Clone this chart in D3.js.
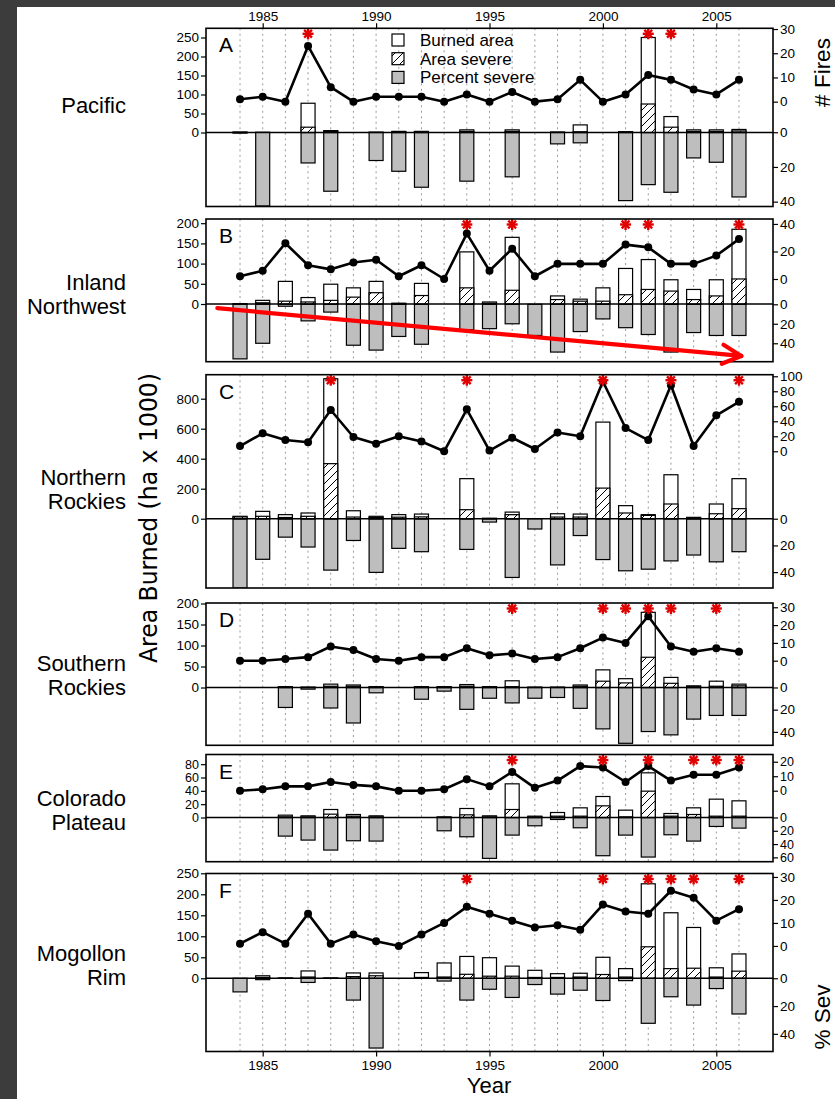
<!DOCTYPE html>
<html>
<head>
<meta charset="utf-8">
<script src="https://cdn.jsdelivr.net/npm/d3@7"></script>
<style>
  html, body { margin: 0; padding: 0; background: #fff; }
  svg { display: block; }
  text { font-family: "Liberation Sans", Arial, sans-serif; fill: #000; }
</style>
</head>
<body>
<svg id="chart" width="835" height="1099"></svg>
<script>
// ---- data ----
const years = [1984, 1985, 1986, 1987, 1988, 1989, 1990, 1991, 1992, 1993, 1994, 1995,
  1996, 1997, 1998, 1999, 2000, 2001, 2002, 2003, 2004, 2005, 2006];
const yearTicks = [1985, 1990, 1995, 2000, 2005];

// area burned (ha x 1000), area severe (ha x 1000), percent severe, number of fires
const pacificArea   = [1, 0, 0, 77, 5, 0, 0.5, 3, 3, 0, 7, 0, 7, 0, 1, 20, 0, 2, 250, 42, 7, 7, 8];
const pacificSevere = [0, 0, 0, 14, 3, 0, 0, 1, 2, 0, 3, 0, 3, 0, 0, 2, 0, 1, 75, 14, 3, 3, 4];
const pacificPct    = [0.5, 42.5, 0, 17.7, 34, 0, 16.3, 22.5, 31.7, 0, 28.2, 0, 25.7, 0, 6.7, 6.1, 0, 39.4, 30.2, 34.6, 14.8, 17.3, 37.3];
const pacificFires  = [1, 2, 0, 23, 6, 0, 2, 2, 2, 0, 3, 0, 4, 0, 1, 9, 0, 3, 11, 9, 5, 3, 9];
const pacificStars  = [1987, 2002, 2003];

const inlandArea   = [1, 9, 56, 16, 49, 40, 56, 2, 51, 0, 129, 5, 165, 0, 20, 12, 40, 88, 110, 60, 36, 60, 185];
const inlandSevere = [0, 3, 7, 5, 9, 17, 28, 1, 21, 0, 40, 2, 34, 0, 11, 7, 7, 23, 36, 32, 11, 20, 62];
const inlandPct    = [56, 40, 2, 17, 8, 42, 47, 33, 41, 0, 26, 25, 20, 32, 49, 28, 15, 24, 31, 49, 29, 32, 32];
const inlandFires  = [2, 6, 26, 10, 7, 12, 14, 2, 10, 0, 33, 6, 22, 2, 11, 11, 11, 25, 23, 11, 11, 17, 29];
const inlandStars  = [1994, 1996, 2001, 2002, 2006];

const northArea   = [16, 49, 27, 38, 933, 53, 16, 27, 31, 0, 267, 3, 44, 0, 33, 31, 644, 87, 27, 293, 9, 98, 267];
const northSevere = [12, 16, 8, 16, 367, 11, 8, 10, 12, 0, 60, 1, 27, 0, 11, 11, 204, 38, 22, 98, 5, 33, 67];
const northPct    = [52, 30.4, 13.8, 21.2, 38.5, 16.3, 40.2, 22.2, 24.7, 0, 23, 2.5, 44, 7.7, 34.6, 12.6, 30.6, 39, 37.8, 31.6, 27.2, 32.3, 24.7];
const northFires  = [7, 24, 15, 12, 55, 19, 10, 20, 13, 0, 56, 1, 18, 3, 25, 20, 93, 31, 15, 88, 7, 48, 66];
const northStars  = [1988, 1994, 2000, 2003, 2006];

const southArea   = [0, 0, 2, 1, 8, 6, 2, 0, 2, 2, 7, 2, 16, 1, 1, 6, 42, 21, 179, 24, 4, 15, 8];
const southSevere = [0, 0, 1, 0, 3, 3, 1, 0, 1, 1, 3, 1, 2, 0, 0, 3, 15, 11, 72, 10, 2, 3, 4];
const southPct    = [0, 0, 18, 1.5, 18.5, 32, 4.8, 0, 10.6, 3.3, 19.7, 9.7, 13.9, 9.7, 9, 18.8, 37.3, 50.3, 39.7, 42.7, 28.5, 25.2, 25.2];
const southFires  = [0, 0, 1, 2, 8, 6, 1, 0, 2, 2, 7, 3, 4, 1, 2, 7, 13, 10, 25, 8, 5, 7, 5];
const southStars  = [1996, 2000, 2001, 2002, 2003, 2005];

const coloradoArea   = [0, 0, 3.5, 2.5, 12, 4.5, 2.5, 0, 0, 1, 13.5, 2.5, 50.5, 2, 7.5, 14.5, 31.5, 11, 67, 6, 14.5, 27.5, 25];
const coloradoSevere = [0, 0, 1, 1, 5, 2, 1, 0, 0, 0, 4, 1, 12, 1, 2, 2, 17.5, 1, 39.5, 2, 4.5, 2, 2];
const coloradoPct    = [0, 0, 28, 34, 49, 35, 35.5, 0, 0, 20, 29, 61.5, 26.5, 12.5, 3, 15.5, 57.5, 26.5, 59.5, 26, 35.5, 13.5, 16];
const coloradoFires  = [0, 1, 3, 3, 6, 4, 3, 0, 0, 1, 8, 3, 13, 2, 7, 17, 16, 6, 17, 7, 11, 11, 16];
const coloradoStars  = [1996, 2000, 2002, 2004, 2005, 2006];

const mogollonArea   = [0, 6, 1, 17.5, 1, 12.7, 12.7, 0, 13.5, 36.5, 52, 49, 29, 19, 11, 12, 50, 23, 225, 156, 121, 25, 58];
const mogollonSevere = [0, 2, 0, 3, 0, 4, 6, 0, 2, 3, 9.5, 5, 5, 2, 2, 3, 9, 3, 75, 23, 24, 3, 17];
const mogollonPct    = [9.8, 1, 0, 3, 0, 15.7, 50.2, 0, 0, 2, 15.7, 7.9, 13.8, 4.5, 11.4, 8.6, 16, 1.7, 32.4, 13.3, 19.3, 7.4, 25.7];
const mogollonFires  = [1, 6, 1, 14, 1, 5, 2, 0, 5, 10, 17, 14, 11, 8, 9, 7, 18, 15, 14, 24, 21, 11, 16];
const mogollonStars  = [1994, 2000, 2002, 2003, 2004, 2006];

// red trend arrow drawn on panel B, in (year, percent severe) units
const arrowFrom = [1983.0, 4];
const arrowTo = [2006.1, 53];

const legendLabels = ["Burned area", "Area severe", "Percent severe"];

// ---- layout ----
const boxLeft = 206, boxRight = 773;
const barW = 14;

const panels = [
  { letter: "A", name: ["Pacific"], nameY: 105,
    area: pacificArea, severe: pacificSevere, pct: pacificPct, fires: pacificFires, stars: pacificStars,
    top: 28.3, bottom: 206.5, areaDom: [-194.7, 274.2], fireDom: [-43.3, 30.3], pctDom: [-59.9, 42.8],
    areaTicks: [0, 50, 100, 150, 200, 250], fireTicks: [0, 10, 20, 30], pctTicks: [0, 20, 40] },
  { letter: "B", name: ["Inland", "Northwest"], nameY: 294,
    area: inlandArea, severe: inlandSevere, pct: inlandPct, fires: inlandFires, stars: inlandStars,
    top: 219, bottom: 361.7, areaDom: [-142.8, 210.4], fireDom: [-60.1, 43.6], pctDom: [-87.5, 58.9],
    areaTicks: [0, 50, 100, 150, 200], fireTicks: [0, 20, 40], pctTicks: [0, 20, 40] },
  { letter: "C", name: ["Northern", "Rockies"], nameY: 489,
    area: northArea, severe: northSevere, pct: northPct, fires: northFires, stars: northStars,
    top: 374.7, bottom: 588, areaDom: [-462, 960], fireDom: [-182.3, 102.1], pctDom: [-107.9, 51.9],
    areaTicks: [0, 200, 400, 600, 800], fireTicks: [0, 20, 40, 60, 80, 100], pctTicks: [0, 20, 40] },
  { letter: "D", name: ["Southern", "Rockies"], nameY: 675,
    area: southArea, severe: southSevere, pct: southPct, fires: southFires, stars: southStars,
    top: 603, bottom: 745.3, areaDom: [-137.6, 201.2], fireDom: [-47.5, 32.4], pctDom: [-76.1, 52.1],
    areaTicks: [0, 50, 100, 150, 200], fireTicks: [0, 10, 20, 30], pctTicks: [0, 20, 40] },
  { letter: "E", name: ["Colorado", "Plateau"], nameY: 810,
    area: coloradoArea, severe: coloradoSevere, pct: coloradoPct, fires: coloradoFires, stars: coloradoStars,
    top: 754.5, bottom: 861.7, areaDom: [-66.3, 94.5], fireDom: [-49.0, 25.0], pctDom: [-94.7, 66.5],
    areaTicks: [0, 20, 40, 60, 80], fireTicks: [0, 10, 20], pctTicks: [0, 20, 40, 60] },
  { letter: "F", name: ["Mogollon", "Rim"], nameY: 965,
    area: mogollonArea, severe: mogollonSevere, pct: mogollonPct, fires: mogollonFires, stars: mogollonStars,
    top: 873.5, bottom: 1051.5, areaDom: [-174.3, 249.5], fireDom: [-45.9, 31.5], pctDom: [-75.4, 52.7],
    areaTicks: [0, 50, 100, 150, 200, 250], fireTicks: [0, 10, 20, 30], pctTicks: [0, 20, 40] }
];

const svg = d3.select("#chart");

// dark frame of the screenshot
svg.append("rect").attr("x", 0).attr("y", 0).attr("width", 835).attr("height", 7).attr("fill", "#3c3c3c");
svg.append("rect").attr("x", 0).attr("y", 0).attr("width", 17).attr("height", 1099).attr("fill", "#3c3c3c");

const defs = svg.append("defs");
defs.append("pattern")
    .attr("id", "hatch")
    .attr("patternUnits", "userSpaceOnUse")
    .attr("width", 8).attr("height", 8)
  .call(p => p.append("rect").attr("width", 8).attr("height", 8).attr("fill", "#fff"))
  .append("path")
    .attr("d", "M-2,2 L2,-2 M0,8 L8,0 M6,10 L10,6")
    .attr("stroke", "#000").attr("stroke-width", 1);

const x = d3.scaleLinear().domain([1982.5, 2007.5]).range([boxLeft, boxRight]);

panels.forEach((p, pi) => {
  const yA = d3.scaleLinear().domain(p.areaDom).range([p.bottom, p.top]);
  const yF = d3.scaleLinear().domain(p.fireDom).range([p.bottom, p.top]);
  const yP = d3.scaleLinear().domain(p.pctDom).range([p.top, p.bottom]);
  const rows = years.map((yr, i) => ({ yr, area: p.area[i], sev: p.severe[i], pct: p.pct[i], fires: p.fires[i] }));

  const g = svg.append("g");
  defs.append("clipPath").attr("id", "clip" + pi)
    .append("rect").attr("x", boxLeft).attr("y", p.top)
    .attr("width", boxRight - boxLeft).attr("height", p.bottom - p.top);
  const plot = g.append("g").attr("clip-path", `url(#clip${pi})`);

  // dotted year grid
  plot.selectAll(".grid").data(years).join("line")
      .attr("x1", d => x(d)).attr("x2", d => x(d))
      .attr("y1", p.top).attr("y2", p.bottom)
      .attr("stroke", "#9a9a9a").attr("stroke-width", 1)
      .attr("stroke-dasharray", "2,3.5");

  // percent severe (downward, grey)
  plot.selectAll(".pct").data(rows.filter(d => d.pct > 0)).join("rect")
      .attr("x", d => x(d.yr) - barW / 2).attr("width", barW)
      .attr("y", yP(0)).attr("height", d => yP(d.pct) - yP(0))
      .attr("fill", "#bebebe").attr("stroke", "#000").attr("stroke-width", 1.2);

  // burned area (white)
  plot.selectAll(".area").data(rows.filter(d => d.area > 0)).join("rect")
      .attr("x", d => x(d.yr) - barW / 2).attr("width", barW)
      .attr("y", d => yA(d.area)).attr("height", d => yA(0) - yA(d.area))
      .attr("fill", "#fff").attr("stroke", "#000").attr("stroke-width", 1.2);

  // area severe (hatched)
  plot.selectAll(".sev").data(rows.filter(d => d.sev > 0)).join("rect")
      .attr("x", d => x(d.yr) - barW / 2).attr("width", barW)
      .attr("y", d => yA(d.sev)).attr("height", d => yA(0) - yA(d.sev))
      .attr("fill", "url(#hatch)").attr("stroke", "#000").attr("stroke-width", 1.2);

  // zero line
  g.append("line")
      .attr("x1", boxLeft).attr("x2", boxRight)
      .attr("y1", yA(0)).attr("y2", yA(0))
      .attr("stroke", "#000").attr("stroke-width", 1.6);

  // number of fires
  g.append("path").datum(rows)
      .attr("d", d3.line().x(d => x(d.yr)).y(d => yF(d.fires)))
      .attr("fill", "none").attr("stroke", "#000").attr("stroke-width", 2.6)
      .attr("stroke-linejoin", "round");
  g.selectAll(".pt").data(rows).join("circle")
      .attr("cx", d => x(d.yr)).attr("cy", d => yF(d.fires)).attr("r", 4)
      .attr("fill", "#000");

  // red asterisks
  const star = g.selectAll(".star").data(p.stars).join("g")
      .attr("transform", d => `translate(${x(d)},${p.top + 5.5})`);
  [0, 45, 90, 135].forEach(a => {
    star.append("line")
        .attr("x1", -5.5).attr("x2", 5.5).attr("y1", 0).attr("y2", 0)
        .attr("transform", `rotate(${a})`)
        .attr("stroke", "#e00000").attr("stroke-width", 2.4);
  });

  // box
  g.append("rect")
      .attr("x", boxLeft).attr("y", p.top)
      .attr("width", boxRight - boxLeft).attr("height", p.bottom - p.top)
      .attr("fill", "none").attr("stroke", "#000").attr("stroke-width", 1.6);

  // axes
  const fs = pi === 4 ? "12.5px" : "13.5px";
  const styleAxis = sel => {
    sel.select(".domain").remove();
    sel.selectAll(".tick line").attr("stroke", "#000").attr("stroke-width", 1.2);
    sel.selectAll("text").style("font-size", fs).attr("fill", "#222");
  };
  g.append("g").attr("transform", `translate(${boxLeft},0)`)
      .call(d3.axisLeft(yA).tickValues(p.areaTicks).tickSize(5).tickPadding(2))
      .call(styleAxis);
  g.append("g").attr("transform", `translate(${boxRight},0)`)
      .call(d3.axisRight(yF).tickValues(p.fireTicks).tickSize(5).tickPadding(2))
      .call(styleAxis);
  g.append("g").attr("transform", `translate(${boxRight},0)`)
      .call(d3.axisRight(yP).tickValues(p.pctTicks).tickSize(5).tickPadding(2))
      .call(styleAxis);

  // panel letter
  g.append("text").attr("x", boxLeft + 13).attr("y", p.top + 24)
      .style("font-size", "21px").text(p.letter);

  // region name
  const nm = g.append("text").attr("text-anchor", "end").style("font-size", "22px");
  p.name.forEach((s, k) => {
    nm.append("tspan").attr("x", 126)
      .attr("y", p.nameY + 8 - (p.name.length - 1) * 12.25 + k * 24.5).text(s);
  });

  if (pi === 0) {
    g.append("g").attr("transform", `translate(0,${p.top})`)
        .call(d3.axisTop(x).tickValues(yearTicks).tickFormat(d3.format("d")).tickSize(5).tickPadding(2))
        .call(styleAxis);
    // legend
    const fills = ["#fff", "url(#hatch)", "#bebebe"];
    const lg = g.append("g");
    legendLabels.forEach((lab, k) => {
      const cy = 40 + k * 18.7;
      lg.append("rect").attr("x", 392).attr("y", cy - 6).attr("width", 12).attr("height", 12)
        .attr("fill", fills[k]).attr("stroke", "#000").attr("stroke-width", 1.2);
      lg.append("text").attr("x", 420).attr("y", cy + 6).style("font-size", "17px").text(lab);
    });
  }
  if (pi === 1) {
    const ax = x(arrowFrom[0]), ay = yP(arrowFrom[1]);
    const bx = x(arrowTo[0]), by = yP(arrowTo[1]);
    const ang = Math.atan2(by - ay, bx - ax);
    const head = 21, spread = 27 * Math.PI / 180;
    const red = "#ff0000";
    g.append("line").attr("x1", ax).attr("y1", ay).attr("x2", bx).attr("y2", by)
      .attr("stroke", red).attr("stroke-width", 4.2).attr("stroke-linecap", "round");
    [spread, -spread].forEach(s => {
      g.append("line").attr("x1", bx).attr("y1", by)
        .attr("x2", bx - head * Math.cos(ang + s)).attr("y2", by - head * Math.sin(ang + s))
        .attr("stroke", red).attr("stroke-width", 4.2).attr("stroke-linecap", "round");
    });
  }
  if (pi === panels.length - 1) {
    g.append("g").attr("transform", `translate(0,${p.bottom})`)
        .call(d3.axisBottom(x).tickValues(yearTicks).tickFormat(d3.format("d")).tickSize(5).tickPadding(4))
        .call(styleAxis);
  }
});

// axis titles
svg.append("text").attr("transform", "translate(157,518) rotate(-90)")
    .attr("text-anchor", "middle")
    .style("font-family", "'Liberation Sans Narrow', 'DejaVu Sans Condensed', 'Liberation Sans', sans-serif")
    .style("font-size", "25px")
    .attr("textLength", 290).attr("lengthAdjust", "spacingAndGlyphs")
    .text("Area Burned (ha x 1000)");
svg.append("text").attr("x", 489).attr("y", 1093).attr("text-anchor", "middle")
    .style("font-size", "22px").text("Year");
svg.append("text").attr("transform", "translate(830,72.5) rotate(-90)")
    .attr("text-anchor", "middle").style("font-size", "22.5px").text("# Fires");
svg.append("text").attr("transform", "translate(830,1017) rotate(-90)")
    .attr("text-anchor", "middle").style("font-size", "22.5px").text("% Sev");
</script>
</body>
</html>
